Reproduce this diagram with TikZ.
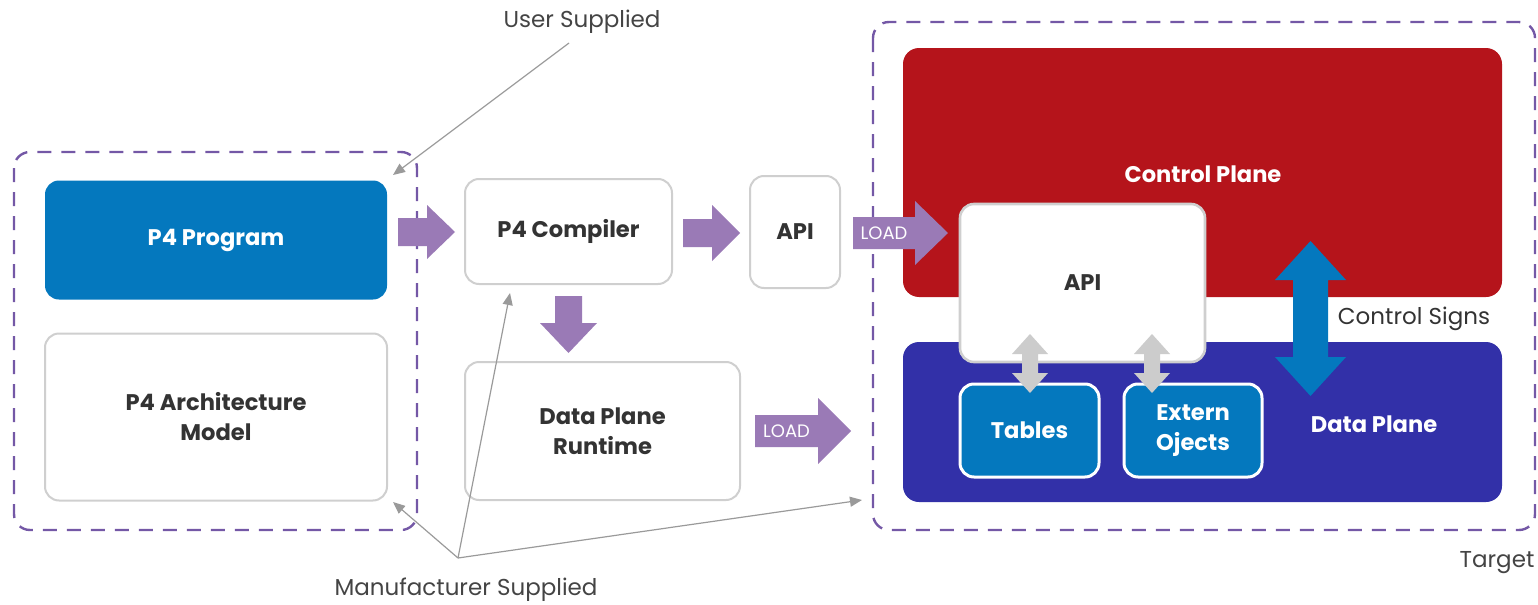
\documentclass[tikz,border=0pt]{standalone}
\usepackage{fontspec}
\setmainfont{Poppins}
\usetikzlibrary{arrows.meta}
\definecolor{cpred}{HTML}{B5141B}
\definecolor{dpnavy}{HTML}{3230A8}
\definecolor{p4blue}{HTML}{0478BE}
\definecolor{parrow}{HTML}{9A7AB6}
\definecolor{dashc}{HTML}{7458A6}
\definecolor{graybd}{HTML}{CFCFCF}
\definecolor{grayarr}{HTML}{CCCCCC}
\definecolor{txt}{HTML}{333333}
\definecolor{lbl}{HTML}{444444}
\definecolor{pointer}{HTML}{9A9A9A}
\newcommand\hblock[7]{% name x1 x2 yc shafthalf headhalf headstart
  \fill[parrow] (#2,{#4-#5}) -- (#7,{#4-#5}) -- (#7,{#4-#6}) -- (#3,#4) -- (#7,{#4+#6}) -- (#7,{#4+#5}) -- (#2,{#4+#5}) -- cycle;
  \coordinate (#1) at ({(#2+#7)/2},#4);}
\newcommand\vdouble[7]{% color xc y1 y2 shafthalf headhalf headlen
  \fill[#1] (#2,#3) -- ({#2+#6},{#3+#7}) -- ({#2+#5},{#3+#7}) -- ({#2+#5},{#4-#7}) -- ({#2+#6},{#4-#7}) -- (#2,#4) -- ({#2-#6},{#4-#7}) -- ({#2-#5},{#4-#7}) -- ({#2-#5},{#3+#7}) -- ({#2-#6},{#3+#7}) -- cycle;}
\begin{document}
\begin{tikzpicture}[x=0.5pt,y=-0.5pt,
  dashbox/.style={draw=dashc, line width=1.2pt, dash pattern=on 7pt off 5pt, rounded corners=8pt},
  whitebox/.style={draw=graybd, line width=1pt, fill=white, rounded corners=7pt, text=txt, font=\fontsize{11.3}{15}\selectfont\bfseries, align=center, inner sep=0pt},
  bluebox/.style={fill=p4blue, rounded corners=7pt, text=white, font=\fontsize{11.3}{15}\selectfont\bfseries, align=center, inner sep=0pt},
  planetext/.style={text=white, font=\fontsize{11.3}{15}\selectfont\bfseries},
  note/.style={text=lbl, font=\fontsize{11.5}{14}\selectfont},
  loadtext/.style={text=white, font=\fontsize{9}{11}\selectfont},
  pointerline/.style={draw=pointer, line width=0.6pt, -{Triangle[length=6pt,width=5pt]}}
]
\useasboundingbox (0,0) rectangle (1538,605);
% dashed groups
\draw[dashbox] (14,152) rectangle (417,530);
\draw[dashbox] (873,22) rectangle (1535,530);
% target planes
\fill[cpred, rounded corners=8pt] (903,48) rectangle (1502,297);
\fill[dpnavy, rounded corners=8pt] (903,342) rectangle (1502,502);
\node[planetext] (cp) at (1203,174) {Control Plane};
\node[planetext] (dp) at (1374,424) {Data Plane};
% left boxes
\node[bluebox, minimum width=171pt, minimum height=59.5pt] (prog) at (216,240) {P4 Program};
\node[whitebox, minimum width=171pt, minimum height=83.5pt] (arch) at (216,417) {P4 Architecture\\Model};
% middle boxes
\node[whitebox, minimum width=103.5pt, minimum height=52.5pt] (comp) at (568.5,231.5) {P4 Compiler};
\node[whitebox, minimum width=45pt, minimum height=56pt] (api1) at (795,232) {API};
\node[whitebox, minimum width=137.5pt, minimum height=69pt] (dpr) at (602.5,431) {Data Plane\\Runtime};
% target internals
\node[whitebox, draw=graybd, line width=1.3pt, minimum width=122.5pt, minimum height=79pt] (api2) at (1082.5,283) {API};
\node[bluebox, draw=white, line width=1.5pt, minimum width=69.5pt, minimum height=46.5pt] (tables) at (1029.5,430.5) {Tables};
\node[bluebox, draw=white, line width=1.5pt, minimum width=69pt, minimum height=46.5pt] (extern) at (1193,430.5) {Extern\\Ojects};
% block arrows
\hblock{a1}{398}{455}{232}{14}{27}{427}
\hblock{a2}{683}{740}{233}{14}{28}{712}
\fill[parrow] (555,296) -- (582,296) -- (582,323) -- (597,323) -- (568.5,353) -- (540,323) -- (555,323) -- cycle;
\coordinate (a3) at (568.5,310);
\hblock{load1}{755}{851}{431}{16}{33}{818}
\node[loadtext] at (load1) {LOAD};
\hblock{load2}{853}{948}{233}{16}{32}{915}
\node[loadtext] at (load2) {LOAD};
% double arrows
\vdouble{grayarr}{1030}{334}{393}{8}{18}{20}
\vdouble{grayarr}{1152}{334}{393}{8}{18}{20}
\vdouble{p4blue}{1310.5}{241}{396}{17.5}{35.5}{39}
\node[note, text=txt] (cs) at (1414,319) {Control Signs};
% labels
\node[note] (us) at (582,22) {User Supplied};
\node[note] (ms) at (466,590) {Manufacturer Supplied};
\node[note] (tg) at (1497,563) {Target};
\coordinate (usstart) at (569,43);
\coordinate (usend) at (393,175);
\draw[pointerline] (usstart) -- (usend);
\coordinate (mj) at (458,558);
\coordinate (m1) at (393,502);
\coordinate (m2) at (510,293);
\coordinate (m3) at (862,500);
\draw[pointerline] (mj) -- (m1);
\draw[pointerline] (mj) -- (m2);
\draw[pointerline] (mj) -- (m3);
\end{tikzpicture}
\end{document}
